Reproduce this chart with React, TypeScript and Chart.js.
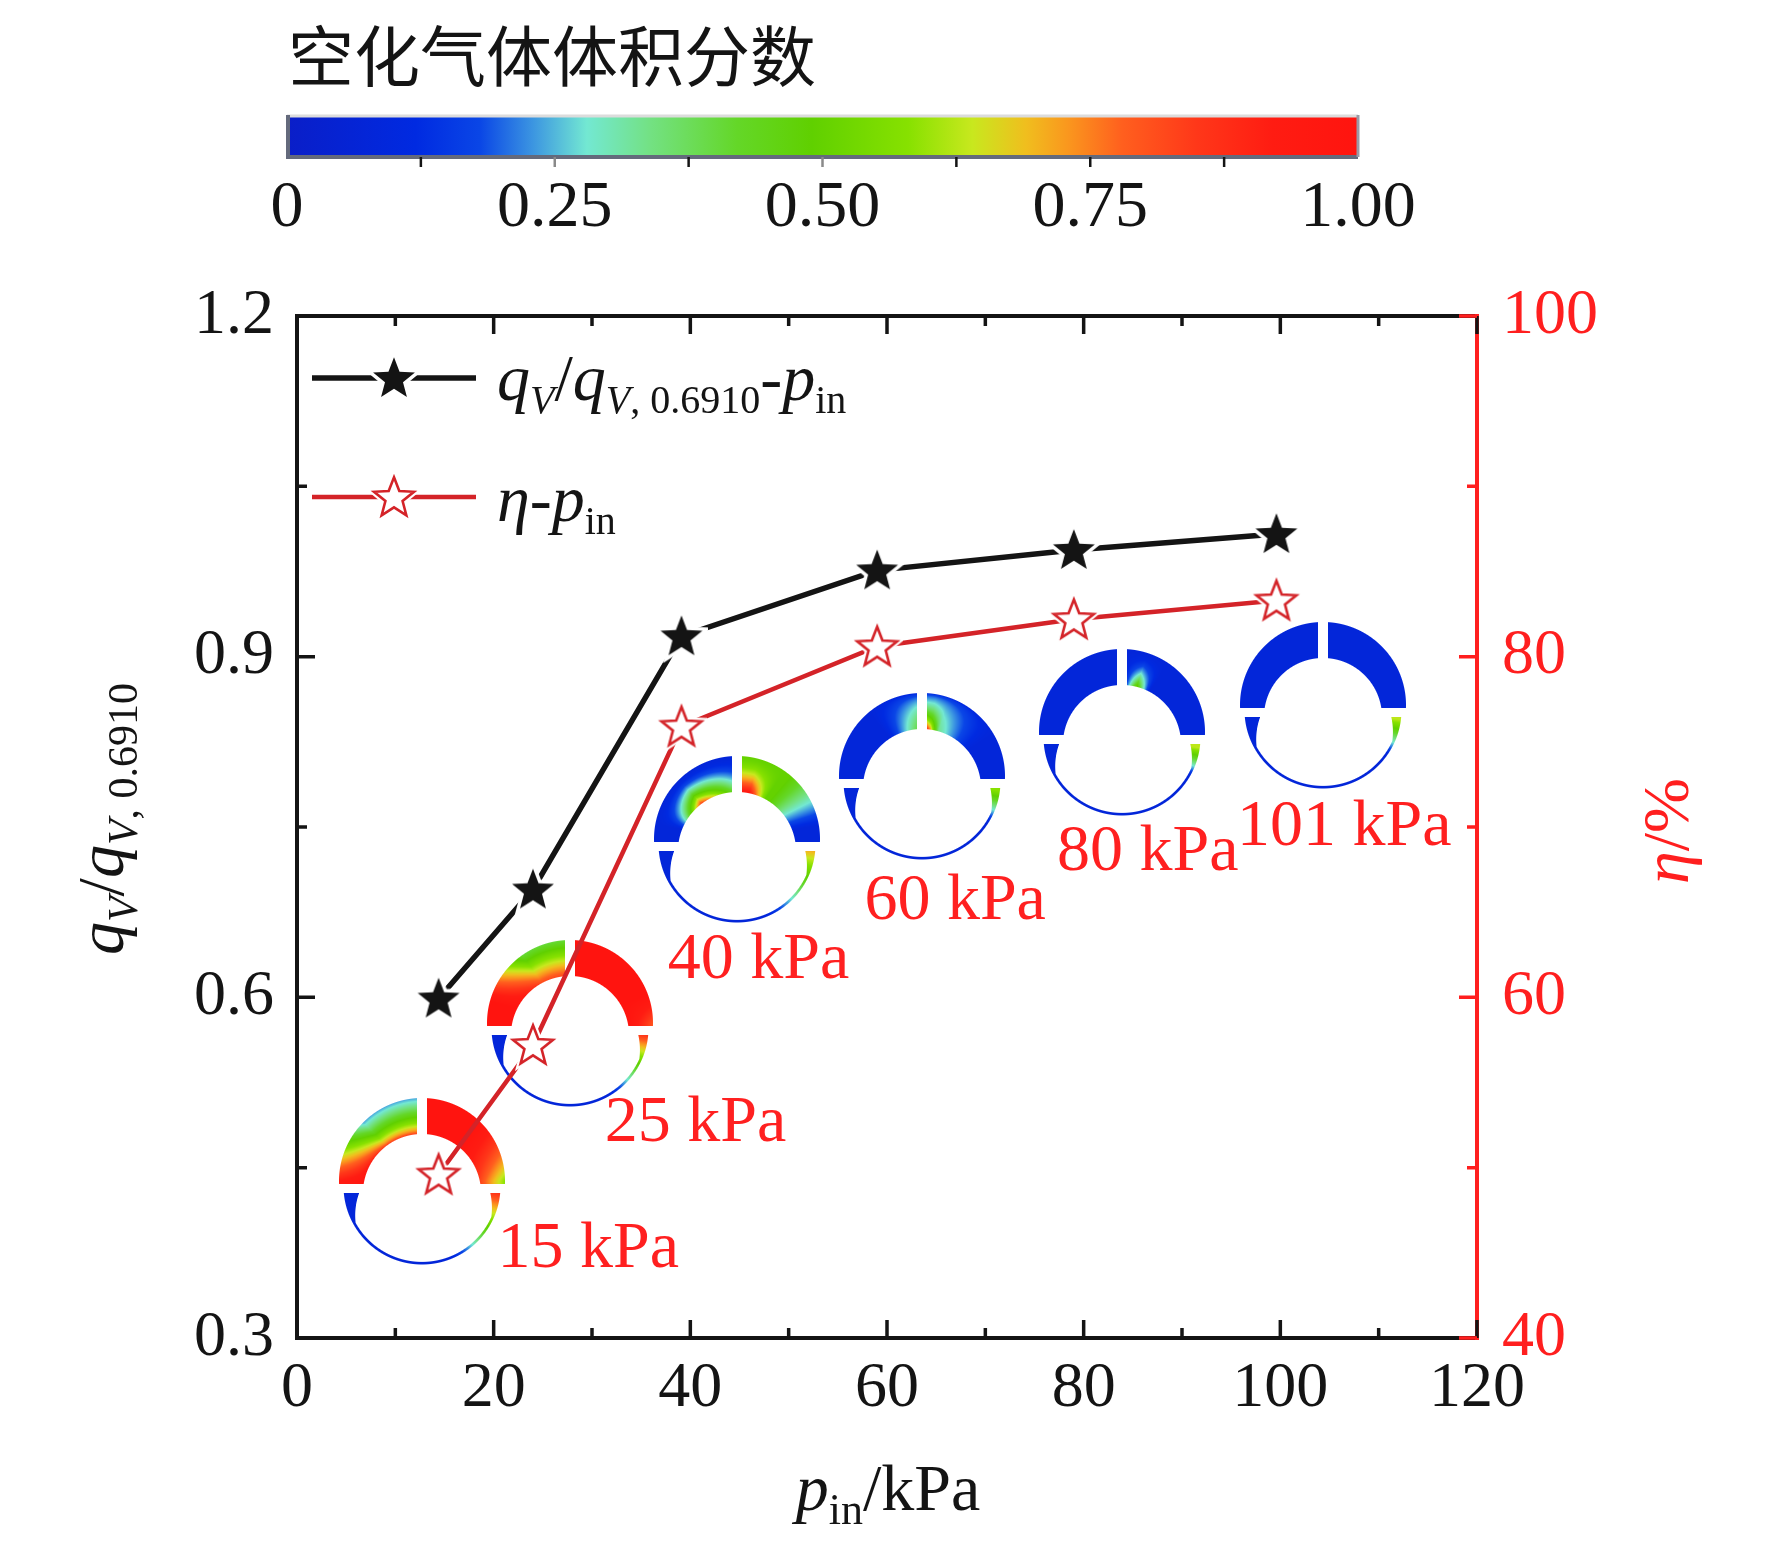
import React, { useEffect, useRef } from "react";
import { Chart, registerables } from "chart.js";

Chart.register(...registerables);

// ---------------- data ----------------
const P_IN = [14.4, 24.0, 39.1, 59.0, 79.0, 99.6];
const FLOW_RATIO = [0.599, 0.695, 0.918, 0.976, 0.994, 1.008];
const EFFICIENCY = [49.6, 57.2, 75.9, 80.6, 82.2, 83.3];

const X_TICKS = [0, 20, 40, 60, 80, 100, 120];
const Y_TICKS = [0.3, 0.6, 0.9, 1.2];
const Y1_TICKS = [40, 60, 80, 100];

const RING_LABELS = ["15 kPa", "25 kPa", "40 kPa", "60 kPa", "80 kPa", "101 kPa"];
const RING_X = [12.76, 27.76, 44.7, 63.6, 83.9, 104.3];
const RING_Y = [0.438, 0.577, 0.739, 0.795, 0.834, 0.857];
const LABEL_X = [20.4, 31.3, 37.7, 57.7, 77.3, 95.6];
const LABEL_Y = [0.378, 0.4885, 0.632, 0.684, 0.727, 0.749];

const COLORBAR_TITLE = "空化气体体积分数";
const COLORBAR_TICKS = [0, 0.25, 0.5, 0.75, 1.0];
const COLORBAR_LABELS = ["0", "0.25", "0.50", "0.75", "1.00"];
const COLORBAR_MINOR = [0.125, 0.25, 0.375, 0.5, 0.625, 0.75, 0.875];

// ---------------- styles ----------------
const SERIF = '"Liberation Serif", "Times New Roman", serif';
const BLACK = "#141414";
const AXIS_RED = "#ff1f1f";
const LINE_RED = "#d42328";
const LABEL_RED = "#ff2020";

const CMAP: [number, number, number, number][] = [
  [0.0, 10, 30, 200],
  [0.12, 0, 42, 225],
  [0.18, 10, 70, 230],
  [0.23, 60, 150, 225],
  [0.28, 115, 232, 210],
  [0.34, 115, 225, 130],
  [0.42, 100, 215, 40],
  [0.49, 96, 208, 0],
  [0.58, 135, 225, 0],
  [0.64, 200, 232, 30],
  [0.69, 240, 190, 30],
  [0.73, 250, 150, 30],
  [0.78, 255, 95, 30],
  [0.85, 255, 55, 25],
  [0.92, 255, 28, 18],
  [1.0, 255, 20, 15],
];

const clamp01 = (v: number) => Math.max(0, Math.min(1, v));

function cmap(v: number): [number, number, number] {
  const t = clamp01(v);
  for (let i = 1; i < CMAP.length; i++) {
    if (t <= CMAP[i][0]) {
      const a = CMAP[i - 1];
      const b = CMAP[i];
      const f = (t - a[0]) / (b[0] - a[0] || 1);
      return [a[1] + (b[1] - a[1]) * f, a[2] + (b[2] - a[2]) * f, a[3] + (b[3] - a[3]) * f];
    }
  }
  const l = CMAP[CMAP.length - 1];
  return [l[1], l[2], l[3]];
}

type Field = { up: (a: number, s: number, right: boolean) => number; low: (p: number) => number };
const BLUE = 0.08;
const RING_FIELDS: Field[] = [
  {
    up: (a, s, r) =>
      r
        ? 1 - 0.42 * Math.pow(clamp01((a - 40) / 50), 1.3) * (0.4 + 0.6 * s)
        : 1 - 0.76 * (0.2 + 0.8 * Math.pow(s, 0.7)) * clamp01((95 - a) / 50),
    low: (p) => (p < 110 ? BLUE : BLUE + 0.8 * Math.pow(clamp01((p - 110) / 66), 1.2)),
  },
  {
    up: (a, s, r) =>
      r ? 1 - 0.2 * clamp01((a - 70) / 20) * s : 1 - 0.6 * (0.3 + 0.7 * s) * clamp01((75 - a) / 40),
    low: (p) => (p < 118 ? BLUE : BLUE + 0.8 * Math.pow(clamp01((p - 118) / 58), 1.3)),
  },
  {
    up: (a, s, r) => {
      if (!r) {
        const h = a < 45 ? 0.3 + (0.45 * a) / 45 : 0.75 * clamp01((80 - a) / 35);
        return BLUE + Math.pow(1 - s, 1.5) * h;
      }
      const k = Math.pow(clamp01((85 - a) / 45), 0.8);
      return Math.max(BLUE, (0.5 + 0.45 * Math.pow(1 - s, 1.5) * clamp01((35 - a) / 20)) * k);
    },
    low: (p) => (p < 110 ? BLUE : BLUE + 0.64 * Math.pow(clamp01((p - 110) / 66), 1.2)),
  },
  {
    up: (a, s, r) =>
      r
        ? BLUE +
          clamp01((60 - a) / 50) *
            (0.32 * Math.pow(1 - s, 0.4) + 0.5 * Math.pow(1 - s, 2.5) * clamp01((20 - a) / 15))
        : BLUE + 0.32 * Math.pow(1 - s, 0.5) * clamp01((40 - a) / 35),
    low: (p) => (p < 148 ? BLUE : BLUE + 0.5 * clamp01((p - 148) / 25)),
  },
  {
    up: (a, s, r) => (r ? BLUE + 0.45 * Math.pow(1 - s, 1.6) * clamp01(1 - Math.abs(a - 18) / 16) : BLUE),
    low: (p) => (p < 150 ? BLUE : BLUE + 0.55 * clamp01((p - 150) / 22)),
  },
  {
    up: () => BLUE,
    low: (p) => (p < 145 ? BLUE : BLUE + 0.55 * clamp01((p - 145) / 28)),
  },
];

function makeRing(field: Field): HTMLCanvasElement {
  const size = 176;
  const half = size / 2;
  const Ro = 83;
  const c = document.createElement("canvas");
  c.width = size;
  c.height = size;
  const g = c.getContext("2d")!;
  const img = g.createImageData(size, size);
  for (let py = 0; py < size; py++) {
    for (let px = 0; px < size; px++) {
      const dx = px + 0.5 - half;
      const dy = py + 0.5 - half;
      let cov = 0;
      let v = 0;
      if (dy <= 4) {
        const r = Math.hypot(dx, dy);
        const di = Math.hypot(dx, dy - 12) - 59;
        const dout = Ro - r;
        cov =
          clamp01(Math.min(di, dout) + 0.5) *
          clamp01(Math.abs(dx) - 5 + 0.5) *
          clamp01(3 - dy + 0.5);
        if (cov > 0) {
          const s = clamp01(di / Math.max(1e-3, di + dout));
          const a = Math.min(90, (Math.atan2(Math.abs(dx), -dy) * 180) / Math.PI);
          v = field.up(a, s, dx > 0);
        }
      } else if (dy >= 11) {
        const ry = dy - 5;
        const rr = Math.hypot(dx, ry);
        const ang = (Math.atan2(ry, dx) * 180) / Math.PI;
        const psi = 180 - ang;
        const leftSide = psi < 90;
        const e = leftSide ? psi - 4 : 176 - psi;
        const w = leftSide ? 2.6 + 14 * clamp01(1 - e / 25) : 2.6 + 8 * clamp01(1 - e / 20);
        const Rl = 78.5;
        cov = clamp01(Math.min(Rl - rr, rr - (Rl - w)) + 0.5) * clamp01(dy - 12 + 0.5);
        if (cov > 0) v = field.low(psi);
      }
      if (cov > 0) {
        const [R, G, B] = cmap(v);
        const k = (py * size + px) * 4;
        img.data[k] = R;
        img.data[k + 1] = G;
        img.data[k + 2] = B;
        img.data[k + 3] = Math.round(cov * 255);
      }
    }
  }
  g.putImageData(img, 0, 0);
  return c;
}

function makeStar(fill: string, stroke: string | null, R: number): HTMLCanvasElement {
  const size = Math.ceil(2 * R + 10);
  const c = document.createElement("canvas");
  c.width = size;
  c.height = size;
  const g = c.getContext("2d")!;
  const cx = size / 2;
  const cy = size / 2 + R * 0.06;
  g.beginPath();
  for (let k = 0; k < 10; k++) {
    const ang = ((-90 + 36 * k) * Math.PI) / 180;
    const rad = k % 2 === 0 ? R : R * 0.43;
    const x = cx + rad * Math.cos(ang);
    const y = cy + rad * Math.sin(ang);
    if (k === 0) g.moveTo(x, y);
    else g.lineTo(x, y);
  }
  g.closePath();
  g.lineJoin = "miter";
  g.strokeStyle = "#ffffff";
  g.lineWidth = 7;
  g.stroke();
  g.fillStyle = fill;
  g.fill();
  if (stroke) {
    g.strokeStyle = stroke;
    g.lineWidth = 2.6;
    g.stroke();
  }
  return c;
}

type Seg = { t: string; it?: boolean; sub?: boolean };

function drawRich(
  ctx: CanvasRenderingContext2D,
  segs: Seg[],
  x: number,
  y: number,
  align: "left" | "center",
  color: string,
  main = 66,
  sub = 44,
  subDy = 14
) {
  const fonts = segs.map((s) => `${s.it ? "italic " : ""}${s.sub ? sub : main}px ${SERIF}`);
  const widths = segs.map((s, i) => {
    ctx.font = fonts[i];
    return ctx.measureText(s.t).width;
  });
  const total = widths.reduce((a, b) => a + b, 0);
  let cx = align === "center" ? x - total / 2 : x;
  ctx.fillStyle = color;
  ctx.textAlign = "left";
  ctx.textBaseline = "alphabetic";
  segs.forEach((s, i) => {
    ctx.font = fonts[i];
    ctx.fillText(s.t, cx, y + (s.sub ? subDy : 0));
    cx += widths[i];
  });
}

const LEGEND_FLOW: Seg[] = [
  { t: "q", it: true },
  { t: "V", it: true, sub: true },
  { t: "/" },
  { t: "q", it: true },
  { t: "V", it: true, sub: true },
  { t: ", 0.6910", sub: true },
  { t: "-" },
  { t: "p", it: true },
  { t: "in", sub: true },
];
const LEGEND_ETA: Seg[] = [{ t: "η", it: true }, { t: "-" }, { t: "p", it: true }, { t: "in", sub: true }];
const Y_TITLE: Seg[] = [
  { t: "q", it: true },
  { t: "V", it: true, sub: true },
  { t: "/" },
  { t: "q", it: true },
  { t: "V", it: true, sub: true },
  { t: ", 0.6910", sub: true },
];
const Y1_TITLE: Seg[] = [{ t: "η", it: true }, { t: "/%" }];
const X_TITLE: Seg[] = [{ t: "p", it: true }, { t: "in", sub: true }, { t: "/kPa" }];

export default function App() {
  const ref = useRef<HTMLCanvasElement>(null);

  useEffect(() => {
    const canvas = ref.current!;
    const blackStar = makeStar(BLACK, null, 22);
    const redStar = makeStar("#ffffff", LINE_RED, 21);
    const rings = RING_FIELDS.map(makeRing);

    const decor = {
      id: "decor",
      beforeDatasetsDraw(chart: any) {
        const ctx: CanvasRenderingContext2D = chart.ctx;
        const xs = chart.scales.x;
        const ys = chart.scales.y;
        ctx.save();
        rings.forEach((c, i) => {
          const cx = xs.getPixelForValue(RING_X[i]);
          const cy = ys.getPixelForValue(RING_Y[i]);
          ctx.drawImage(c, Math.round(cx - c.width / 2), Math.round(cy - c.height / 2));
        });
        ctx.restore();
      },
      afterDatasetsDraw(chart: any) {
        const ctx: CanvasRenderingContext2D = chart.ctx;
        const { left, right, top, bottom } = chart.chartArea;
        const xs = chart.scales.x;
        const ys = chart.scales.y;
        const y1 = chart.scales.y1;
        ctx.save();
        // ring labels
        ctx.font = `66px ${SERIF}`;
        ctx.fillStyle = LABEL_RED;
        ctx.textAlign = "left";
        ctx.textBaseline = "middle";
        RING_LABELS.forEach((t, i) => {
          ctx.fillText(t, xs.getPixelForValue(LABEL_X[i]), ys.getPixelForValue(LABEL_Y[i]));
        });

        // frame
        ctx.lineCap = "square";
        ctx.lineWidth = 4;
        ctx.strokeStyle = BLACK;
        ctx.beginPath();
        ctx.moveTo(right, bottom);
        ctx.lineTo(left, bottom);
        ctx.lineTo(left, top);
        ctx.lineTo(right, top);
        ctx.stroke();
        ctx.strokeStyle = AXIS_RED;
        ctx.beginPath();
        ctx.moveTo(right, top);
        ctx.lineTo(right, bottom);
        ctx.stroke();

        // ticks
        ctx.lineCap = "butt";
        ctx.lineWidth = 3.5;
        const major = 18;
        const minor = 10;
        ctx.strokeStyle = BLACK;
        ctx.beginPath();
        X_TICKS.forEach((v, i) => {
          const px = xs.getPixelForValue(v);
          ctx.moveTo(px, bottom);
          ctx.lineTo(px, bottom - major);
          ctx.moveTo(px, top);
          ctx.lineTo(px, top + major);
          if (i < X_TICKS.length - 1) {
            const mx = xs.getPixelForValue((v + X_TICKS[i + 1]) / 2);
            ctx.moveTo(mx, bottom);
            ctx.lineTo(mx, bottom - minor);
            ctx.moveTo(mx, top);
            ctx.lineTo(mx, top + minor);
          }
        });
        Y_TICKS.forEach((v, i) => {
          const py = ys.getPixelForValue(v);
          ctx.moveTo(left, py);
          ctx.lineTo(left + major, py);
          if (i < Y_TICKS.length - 1) {
            const my = ys.getPixelForValue((v + Y_TICKS[i + 1]) / 2);
            ctx.moveTo(left, my);
            ctx.lineTo(left + minor, my);
          }
        });
        ctx.stroke();
        ctx.strokeStyle = AXIS_RED;
        ctx.beginPath();
        Y1_TICKS.forEach((v, i) => {
          const py = y1.getPixelForValue(v);
          ctx.moveTo(right, py);
          ctx.lineTo(right - major, py);
          if (i < Y1_TICKS.length - 1) {
            const my = y1.getPixelForValue((v + Y1_TICKS[i + 1]) / 2);
            ctx.moveTo(right, my);
            ctx.lineTo(right - minor, my);
          }
        });
        ctx.stroke();
        ctx.restore();
      },
      afterDraw(chart: any) {
        const ctx: CanvasRenderingContext2D = chart.ctx;
        ctx.save();
        // colorbar title
        ctx.font = `66px "Noto Sans CJK SC", sans-serif`;
        ctx.fillStyle = BLACK;
        ctx.textAlign = "left";
        ctx.textBaseline = "middle";
        ctx.fillText(COLORBAR_TITLE, 288, 56);

        // colorbar
        const bx0 = 287;
        const bx1 = 1358;
        const by0 = 115;
        const by1 = 157;
        const grad = ctx.createLinearGradient(bx0, 0, bx1, 0);
        CMAP.forEach(([t, r, g, b]) => grad.addColorStop(t, `rgb(${r},${g},${b})`));
        ctx.fillStyle = grad;
        ctx.fillRect(bx0, by0, bx1 - bx0, by1 - by0);
        ctx.lineWidth = 3;
        ctx.strokeStyle = "#dcdcdc";
        ctx.beginPath();
        ctx.moveTo(bx0, by0 + 1);
        ctx.lineTo(bx1, by0 + 1);
        ctx.stroke();
        ctx.strokeStyle = "#646a7c";
        ctx.lineWidth = 4;
        ctx.beginPath();
        ctx.moveTo(bx0 + 1, by0);
        ctx.lineTo(bx0 + 1, by1);
        ctx.lineTo(bx1, by1);
        ctx.stroke();
        ctx.lineWidth = 3;
        ctx.strokeStyle = "#9a9aa6";
        ctx.beginPath();
        ctx.moveTo(bx1, by0);
        ctx.lineTo(bx1, by1);
        ctx.stroke();
        // colorbar ticks
        ctx.lineWidth = 2.5;
        COLORBAR_MINOR.forEach((t) => {
          const px = bx0 + t * (bx1 - bx0);
          ctx.strokeStyle = t === 0.25 || t === 0.5 ? "#8a8a8a" : BLACK;
          ctx.beginPath();
          ctx.moveTo(px, by1);
          ctx.lineTo(px, by1 + 10);
          ctx.stroke();
        });
        ctx.font = `66px ${SERIF}`;
        ctx.fillStyle = BLACK;
        ctx.textAlign = "center";
        ctx.textBaseline = "middle";
        COLORBAR_TICKS.forEach((t, i) => {
          ctx.fillText(COLORBAR_LABELS[i], bx0 + t * (bx1 - bx0), 209);
        });

        // legend
        const items = [
          { y: 378, color: BLACK, w: 5.5, star: blackStar, segs: LEGEND_FLOW, base: 400 },
          { y: 497, color: LINE_RED, w: 4.5, star: redStar, segs: LEGEND_ETA, base: 521 },
        ];
        items.forEach((it) => {
          ctx.strokeStyle = it.color;
          ctx.lineWidth = it.w;
          ctx.lineCap = "butt";
          ctx.beginPath();
          ctx.moveTo(312, it.y);
          ctx.lineTo(476, it.y);
          ctx.stroke();
          ctx.drawImage(it.star, 394 - it.star.width / 2, it.y - it.star.height / 2);
          drawRich(ctx, it.segs, 497, it.base, "left", BLACK, 66, 40, 13);
        });

        // axis titles
        drawRich(ctx, X_TITLE, 888, 1510, "center", BLACK);
        ctx.save();
        ctx.translate(123, 819);
        ctx.rotate(-Math.PI / 2);
        drawRich(ctx, Y_TITLE, 0, 0, "center", BLACK, 66, 42, 14);
        ctx.restore();
        ctx.save();
        ctx.translate(1688, 831);
        ctx.rotate(-Math.PI / 2);
        drawRich(ctx, Y1_TITLE, 0, 0, "center", AXIS_RED);
        ctx.restore();
        ctx.restore();
      },
    };

    const tickFont = { family: SERIF, size: 64 };
    const chart = new Chart(canvas, {
      type: "line",
      data: {
        datasets: [
          {
            label: "flow",
            data: P_IN.map((x, i) => ({ x, y: FLOW_RATIO[i] })),
            xAxisID: "x",
            yAxisID: "y",
            borderColor: BLACK,
            backgroundColor: BLACK,
            borderWidth: 5.5,
            pointStyle: blackStar as any,
            pointRadius: 20,
            pointHoverRadius: 20,
            tension: 0,
            order: 0,
          },
          {
            label: "eta",
            data: P_IN.map((x, i) => ({ x, y: EFFICIENCY[i] })),
            xAxisID: "x",
            yAxisID: "y1",
            borderColor: LINE_RED,
            backgroundColor: LINE_RED,
            borderWidth: 4.5,
            pointStyle: redStar as any,
            pointRadius: 20,
            pointHoverRadius: 20,
            tension: 0,
            order: 1,
          },
        ],
      },
      options: {
        responsive: false,
        maintainAspectRatio: false,
        animation: false,
        devicePixelRatio: 1,
        events: [],
        layout: { padding: { top: 316, left: 0, right: 0, bottom: 0 } },
        plugins: {
          legend: { display: false },
          tooltip: { enabled: false },
          title: { display: false },
        },
        scales: {
          x: {
            type: "linear",
            position: "bottom",
            min: 0,
            max: 120,
            afterBuildTicks: (s: any) => {
              s.ticks = X_TICKS.map((v) => ({ value: v }));
            },
            afterFit: (s: any) => {
              s.height = 210;
            },
            grid: { display: false, drawTicks: false },
            border: { display: false },
            ticks: { font: tickFont, color: BLACK, padding: 13, maxRotation: 0, autoSkip: false },
          },
          y: {
            type: "linear",
            position: "left",
            min: 0.3,
            max: 1.2,
            afterBuildTicks: (s: any) => {
              s.ticks = Y_TICKS.map((v) => ({ value: v }));
            },
            afterFit: (s: any) => {
              s.width = 297;
            },
            grid: { display: false, drawTicks: false },
            border: { display: false },
            ticks: {
              font: tickFont,
              color: BLACK,
              padding: 23,
              autoSkip: false,
              callback: (v: any) => Number(v).toFixed(1),
            },
          },
          y1: {
            type: "linear",
            position: "right",
            min: 40,
            max: 100,
            afterBuildTicks: (s: any) => {
              s.ticks = Y1_TICKS.map((v) => ({ value: v }));
            },
            afterFit: (s: any) => {
              s.width = 295;
            },
            grid: { display: false, drawTicks: false },
            border: { display: false },
            ticks: { font: tickFont, color: AXIS_RED, padding: 25, autoSkip: false },
          },
        },
      } as any,
      plugins: [decor],
    });
    return () => chart.destroy();
  }, []);

  return (
    <div style={{ position: "absolute", left: 0, top: 0, width: 1772, height: 1548, background: "#fff" }}>
      <canvas ref={ref} width={1772} height={1548} style={{ display: "block", width: 1772, height: 1548 }} />
    </div>
  );
}
